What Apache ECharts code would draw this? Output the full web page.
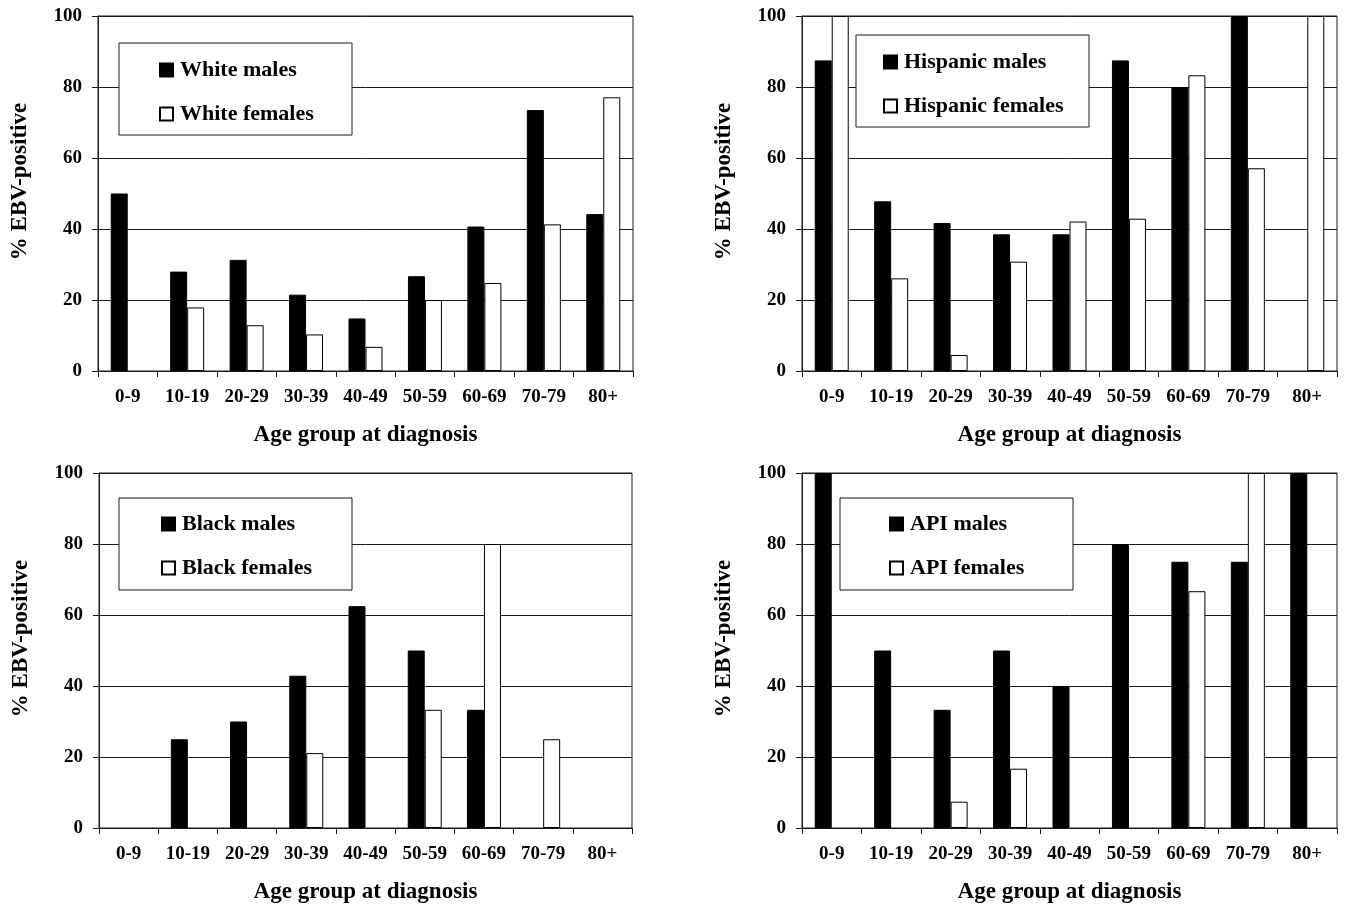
<!DOCTYPE html>
<html>
<head>
<meta charset="utf-8">
<script src="https://cdn.jsdelivr.net/npm/echarts@6/dist/echarts.min.js"></script>
<style>
  html, body { margin: 0; padding: 0; background: #fff; }
  #chart { width: 1346px; height: 910px; }
</style>
</head>
<body>
<div id="chart"></div>
<script>
var ages = ['0-9', '10-19', '20-29', '30-39', '40-49', '50-59', '60-69', '70-79', '80+'];

var white_males = [50, 28, 31.3, 21.5, 14.8, 26.7, 40.7, 73.5, 44.2];
var white_females = [0, 17.9, 12.9, 10.3, 6.8, 20, 24.8, 41.3, 77.1];

var hispanic_males = [87.5, 47.8, 41.7, 38.5, 38.5, 87.5, 80, 100, 0];
var hispanic_females = [100, 26.1, 4.5, 30.8, 42.1, 42.9, 83.3, 57.1, 100];

var black_males = [0, 25, 30, 42.9, 62.5, 50, 33.3, 0, 0];
var black_females = [0, 0, 0, 21.1, 0, 33.3, 80, 25, 0];

var api_males = [100, 50, 33.3, 50, 40, 80, 75, 75, 100];
var api_females = [0, 0, 7.4, 16.7, 0, 0, 66.7, 100, 0];

var y_name = '% EBV-positive';
var x_name = 'Age group at diagnosis';

var FONT = '"Liberation Serif", "Times New Roman", serif';
var LINE = '#1a1a1a';

// one panel per group: grid box, legend box, legend position
var panels = [
    {grid: {left: 98, top: 16, width: 535, height: 355},
     box: [119, 43, 233, 92], legend: [159, 57],
     names: ['White males', 'White females'], data: [white_males, white_females]},
    {grid: {left: 802, top: 16, width: 535, height: 355},
     box: [856, 35, 233, 92], legend: [883, 49],
     names: ['Hispanic males', 'Hispanic females'], data: [hispanic_males, hispanic_females]},
    {grid: {left: 99, top: 473, width: 533, height: 355},
     box: [119, 498, 233, 92], legend: [161, 511],
     names: ['Black males', 'Black females'], data: [black_males, black_females]},
    {grid: {left: 802, top: 473, width: 535, height: 355},
     box: [840, 498, 233, 92], legend: [889, 511],
     names: ['API males', 'API females'], data: [api_males, api_females]}
];

// a zero bar is just the baseline, don't draw a border for it
function no_zero(arr)
{
    return arr.map((v) => v === 0 ? null : v);
}

function build_option()
{
    var grids = [], xAxes = [], yAxes = [], series = [], legends = [], graphics = [];

    panels.forEach(function (p, i) {
	grids.push(Object.assign({show: true, borderColor: LINE, borderWidth: 1,
				  backgroundColor: '#fff'}, p.grid));

	xAxes.push({
	    type: 'category', gridIndex: i, data: ages,
	    name: x_name, nameLocation: 'middle', nameGap: 53,
	    nameTextStyle: {fontFamily: FONT, fontWeight: 'bold', fontSize: 23, color: '#000'},
	    axisLine: {lineStyle: {color: LINE, width: 1}},
	    axisTick: {show: true, length: 6, interval: 0, lineStyle: {color: LINE}},
	    axisLabel: {interval: 0, margin: 17, fontFamily: FONT, fontWeight: 'bold',
			fontSize: 19, color: '#000'},
	    splitLine: {show: false}
	});

	yAxes.push({
	    type: 'value', gridIndex: i, min: 0, max: 100, interval: 20,
	    name: y_name, nameLocation: 'middle', nameGap: 66, nameRotate: 90,
	    nameTextStyle: {fontFamily: FONT, fontWeight: 'bold', fontSize: 23, color: '#000',
			    padding: [0, 0, 0, 24]},
	    axisLine: {show: true, lineStyle: {color: LINE, width: 1}},
	    axisTick: {show: true, length: 6, lineStyle: {color: LINE}},
	    axisLabel: {margin: 16, fontFamily: FONT, fontWeight: 'bold', fontSize: 19, color: '#000'},
	    splitLine: {show: true, lineStyle: {color: LINE, width: 1}}
	});

	series.push({
	    name: p.names[0], type: 'bar', xAxisIndex: i, yAxisIndex: i,
	    data: no_zero(p.data[0]), barWidth: 17, barGap: '0%',
	    itemStyle: {color: '#000', borderColor: '#000', borderWidth: 1}
	});
	series.push({
	    name: p.names[1], type: 'bar', xAxisIndex: i, yAxisIndex: i,
	    data: no_zero(p.data[1]), barWidth: 17, barGap: '0%',
	    itemStyle: {color: '#fff', borderColor: '#000', borderWidth: 1}
	});

	legends.push({
	    data: p.names, orient: 'vertical', left: p.legend[0], top: p.legend[1] + 2,
	    itemWidth: 13, itemHeight: 13, itemGap: 22, icon: 'rect', padding: 0,
	    selectedMode: false, z: 5,
	    textStyle: {fontFamily: FONT, fontWeight: 'bold', fontSize: 22,
			lineHeight: 22, color: '#000', padding: [0, 0, 0, 2]}
	});

	graphics.push({
	    type: 'rect', z: 3,
	    shape: {x: p.box[0], y: p.box[1], width: p.box[2], height: p.box[3]},
	    style: {fill: '#fff', stroke: LINE, lineWidth: 1}
	});
    });

    return {
	animation: false,
	backgroundColor: '#fff',
	grid: grids,
	xAxis: xAxes,
	yAxis: yAxes,
	legend: legends,
	series: series,
	graphic: graphics
    };
}

var chart = echarts.init(document.getElementById('chart'));
chart.setOption(build_option());
</script>
</body>
</html>
